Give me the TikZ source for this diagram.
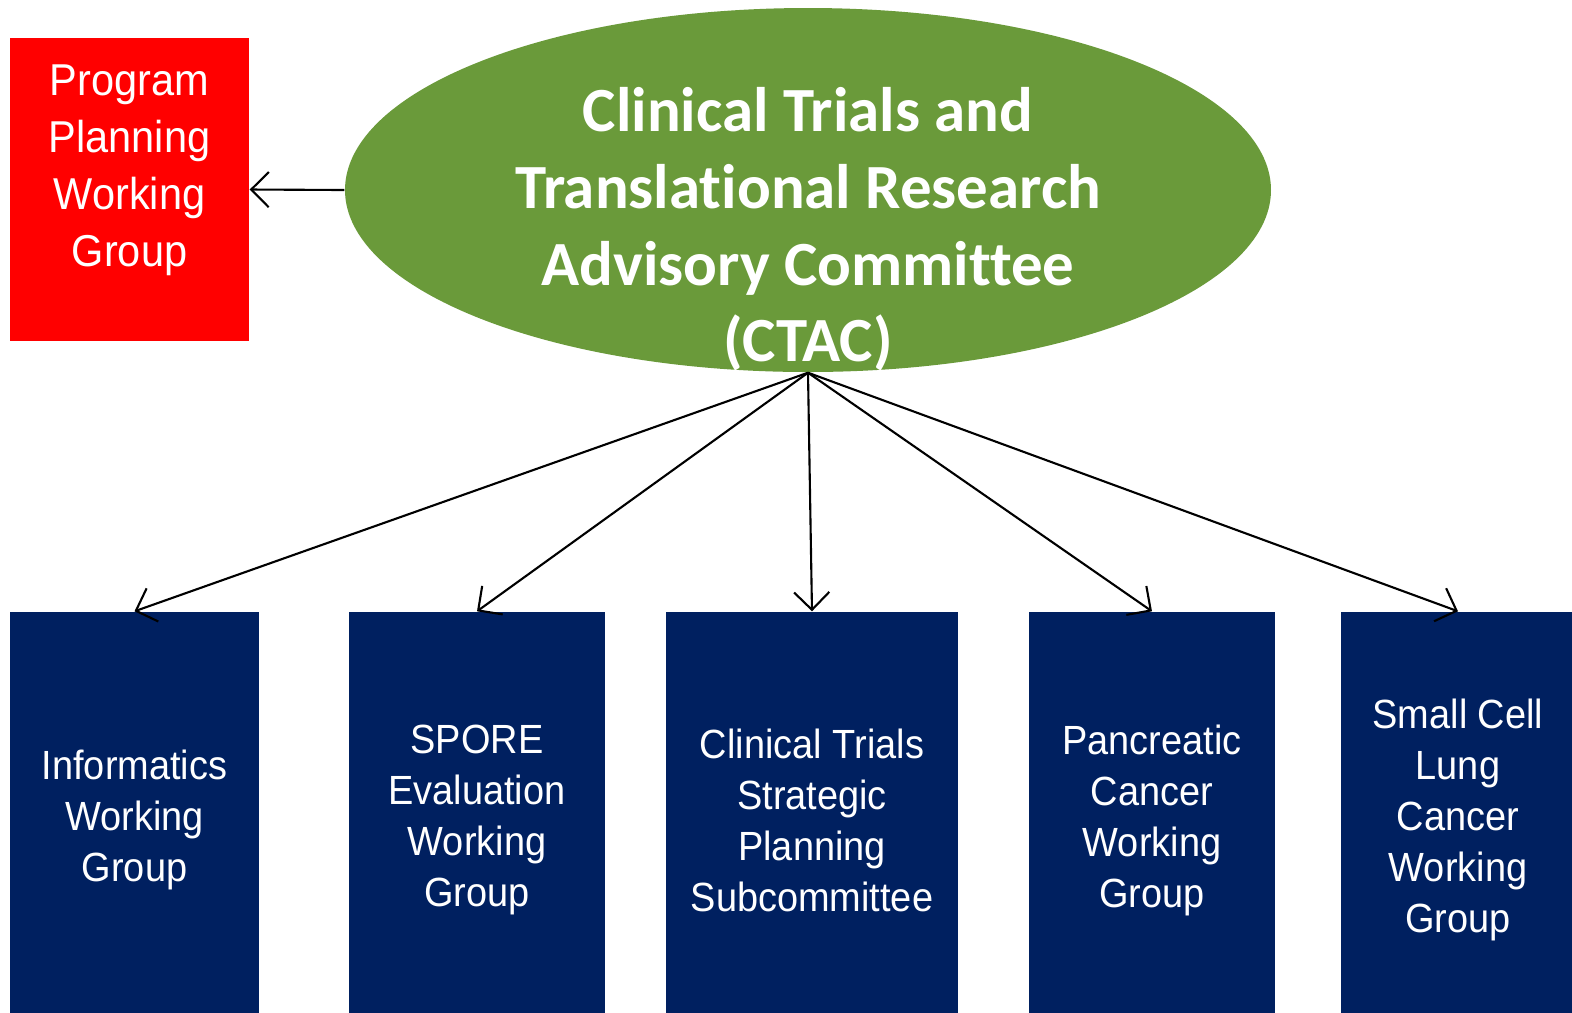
\documentclass[tikz,border=0pt]{standalone}
\usepackage{fontspec}
\setmainfont{Liberation Sans}[FakeStretch=0.93]
\newfontfamily\ctacfont{Carlito}[Ligatures=NoCommon]
\usetikzlibrary{arrows.meta,shapes.geometric}
\definecolor{ctacgreen}{RGB}{106,154,58}
\definecolor{wgblue}{RGB}{0,32,96}
\definecolor{ppred}{RGB}{255,0,0}
\tikzset{
  wgbox/.style = {fill = wgblue, text = white, minimum height = 4.16cm, align = center,
                  font = \fontsize{11.6}{14.5}\selectfont, inner sep = 0pt},
  link/.style = {-{Straight Barb[length=5pt, width=10pt]}, line width = 0.6pt}
}
\begin{document}
\begin{tikzpicture}[]
  \useasboundingbox (0,0) rectangle (15.72,-10.12);
  \coordinate (C) at (8.08,-1.90);
  % committee ellipse
  \node[ellipse, fill = ctacgreen, minimum width = 9.26cm, minimum height = 3.64cm, inner sep = 0pt] (ctac) at (C) {};
  \node[text = white, align = center, font = \ctacfont\bfseries\fontsize{17.9}{21.8}\selectfont] (ctactext) at (8.08,-2.295)
    {Clinical Trials and\\Translational Research\\Advisory Committee\\(CTAC)};
  % program planning box
  \node[fill = ppred, minimum width = 2.39cm, minimum height = 3.03cm, inner sep = 0pt] (prog) at (1.295,-1.895) {};
  \node[text = white, align = center, font = \fontsize{12.7}{16.2}\selectfont] (progtext) at (1.295,-1.70)
    {Program\\Planning\\Working\\Group};
  % working groups (boxes run past the bottom edge)
  \node[wgbox, minimum width = 2.49cm] (info) at (1.345,-8.20) {Informatics\\Working\\Group};
  \node[wgbox, minimum width = 2.56cm] (spore) at (4.77,-8.20) {SPORE\\Evaluation\\Working\\Group};
  \node[wgbox, minimum width = 2.92cm] (ctsp) at (8.12,-8.20) {Clinical Trials\\Strategic\\Planning\\Subcommittee};
  \node[wgbox, minimum width = 2.46cm] (panc) at (11.52,-8.20) {Pancreatic\\Cancer\\Working\\Group};
  \node[wgbox, minimum width = 2.34cm] (sclc) at (14.58,-8.20) {Small Cell\\Lung\\Cancer\\Working\\Group};
  % arrows
  \draw[link] (ctac.west) -- (prog.east);
  \draw[link] (ctac.south) -- (info.north);
  \draw[link] (ctac.south) -- (spore.north);
  \draw[link] (ctac.south) -- (ctsp.north);
  \draw[link] (ctac.south) -- (panc.north);
  \draw[link] (ctac.south) -- (sclc.north);
\end{tikzpicture}
\end{document}
